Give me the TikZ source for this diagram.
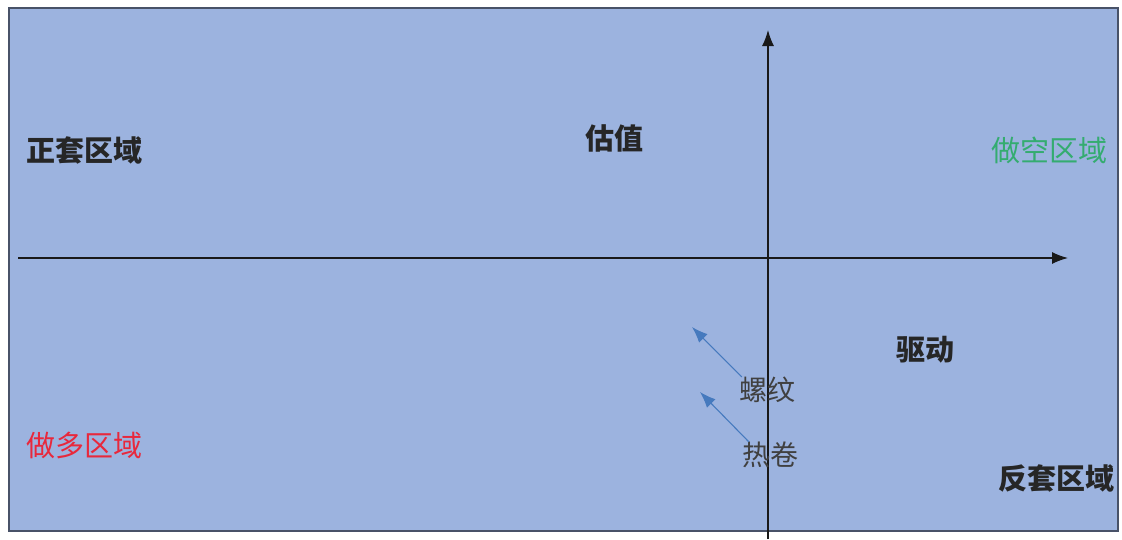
\documentclass[tikz,border=0pt]{standalone}
\usepackage{fontspec}
\setmainfont{Noto Sans CJK SC}
\usepackage{tikz}
\usetikzlibrary{arrows.meta}
\definecolor{panelblue}{RGB}{156,179,223}
\definecolor{panelframe}{RGB}{72,82,104}
\definecolor{shortgreen}{RGB}{52,172,112}
\definecolor{longred}{RGB}{232,40,60}
\definecolor{movearrow}{RGB}{70,122,190}
\tikzstyle{zone} = [inner sep=0pt, font=\fontsize{29}{33}\selectfont\bfseries, text=black!85]
\tikzstyle{product} = [inner sep=0pt, font=\fontsize{28}{32}\selectfont, text=black!75]
\tikzstyle{axis} = [line width=1.3pt, black!90, -{Latex[length=16pt,width=12pt]}]
\tikzstyle{move} = [line width=1.1pt, movearrow, -{Latex[length=16pt,width=12pt]}]

\begin{document}
\begin{tikzpicture}[x=1pt, y=-1pt]
\useasboundingbox (0,0) rectangle (1122,539);

% Panel

	\filldraw [fill=panelblue, draw=panelframe, line width=1.6pt] (9,8) rectangle (1118,531);


% Axes

	\coordinate (xLeft) at (18,258);
	\coordinate (xRight) at (1068,258);
	\coordinate (yBottom) at (768,539);
	\coordinate (yTop) at (768,30);

	\draw [axis] (xLeft) -- (xRight);
	\draw [axis] (yBottom) -- (yTop);


% Quadrant labels

	\node (zhengtao) [zone] at (85,150) {正套区域};
	\node (guzhi) [zone] at (614,138) {估值};
	\node (zuokong) [zone, font=\fontsize{29}{33}\selectfont, text=shortgreen] at (1049,150) {做空区域};
	\node (qudong) [zone] at (925,350) {驱动};
	\node (zuoduo) [zone, font=\fontsize{29}{33}\selectfont, text=longred] at (85,445) {做多区域};
	\node (fantao) [zone, anchor=east] at (1115,478) {反套区域};


% Products

	\node (luowen) [product] at (767,390) {螺纹};
	\node (rejuan) [product] at (770,455) {热卷};

	\coordinate (luowenTo) at (692,327);
	\coordinate (rejuanTo) at (700,392);

	\draw [move] ([xshift=3pt]luowen.north west) -- (luowenTo);
	\draw [move] ([xshift=7pt]rejuan.north west) -- (rejuanTo);

\end{tikzpicture}
\end{document}
